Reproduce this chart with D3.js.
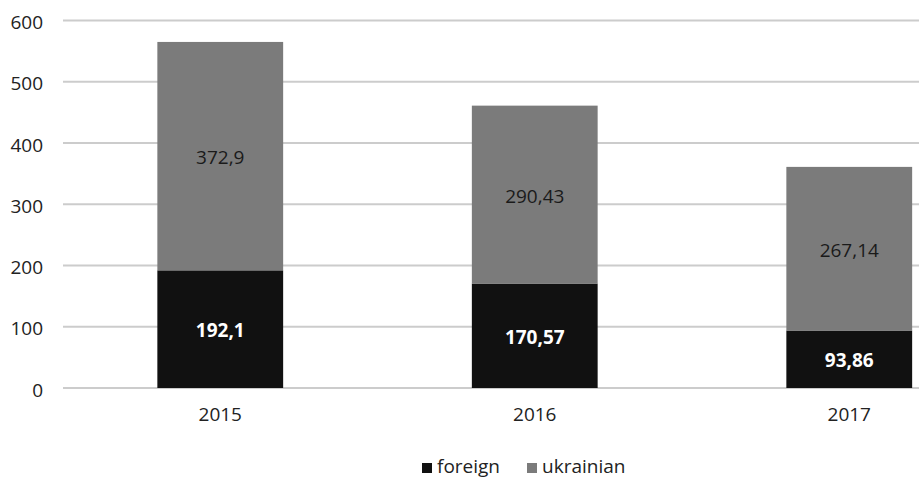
<!DOCTYPE html>
<html>
<head>
<meta charset="utf-8">
<script src="https://cdn.jsdelivr.net/npm/d3@7"></script>
<style>
  body { margin: 0; background: #fff; }
  svg { display: block; font-family: "Open Sans", sans-serif; }
</style>
</head>
<body>
<svg id="chart"></svg>
<script>
const width = 919;
const height = 479;

const years = ["2015", "2016", "2017"];
const foreign = [192.1, 170.57, 93.86];
const ukrainian = [372.9, 290.43, 267.14];
const yTicks = [0, 100, 200, 300, 400, 500, 600];
const seriesNames = ["foreign", "ukrainian"];
const colors = ["#111111", "#7b7b7b"];

const fmt = (v) => String(v).replace(".", ",");
const fontSize = 19;

const svg = d3.select("#chart").attr("width", width).attr("height", height);

// the original chart is cut off on the right, so the band range runs past the edge
const x = d3.scaleBand().domain(years).range([63, 1006.5]).paddingInner(0.6).paddingOuter(0.3);
const y = d3.scaleLinear().domain([0, 600]).range([388, 20.5]);

const data = years.map((yr, i) => ({ year: yr, foreign: foreign[i], ukrainian: ukrainian[i] }));
const stacked = d3.stack().keys(seriesNames)(data);

// gridlines
svg.append("g")
    .selectAll("line")
    .data(yTicks)
    .enter()
    .append("line")
    .attr("x1", 63)
    .attr("x2", width)
    .attr("y1", (d) => y(d))
    .attr("y2", (d) => y(d))
    .attr("stroke", "#cccccc")
    .attr("stroke-width", 2);

// y labels
const yAxis = d3.axisLeft(y).tickValues(yTicks).tickSize(0).tickPadding(0);
const yg = svg.append("g").attr("transform", "translate(43,2)").call(yAxis);
yg.select(".domain").remove();
yg.selectAll("text")
    .attr("font-size", fontSize)
    .attr("fill", "#222")
    .attr("font-family", "Open Sans, sans-serif");

// x labels
const xAxis = d3.axisBottom(x).tickSize(0).tickPadding(0);
const xg = svg.append("g").attr("transform", "translate(0,407)").call(xAxis);
xg.select(".domain").remove();
xg.selectAll("text")
    .attr("font-size", fontSize)
    .attr("fill", "#222")
    .attr("font-family", "Open Sans, sans-serif");

// bars
const layers = svg.append("g")
    .selectAll("g")
    .data(stacked)
    .enter()
    .append("g")
    .attr("fill", (d, i) => colors[i]);

layers.selectAll("rect")
    .data((d) => d)
    .enter()
    .append("rect")
    .attr("x", (d) => x(d.data.year))
    .attr("width", x.bandwidth())
    .attr("y", (d) => y(d[1]))
    .attr("height", (d) => y(d[0]) - y(d[1]));

// value labels
stacked.forEach((layer, li) => {
    svg.append("g")
        .selectAll("text")
        .data(layer)
        .enter()
        .append("text")
        .attr("x", (d) => x(d.data.year) + x.bandwidth() / 2)
        .attr("y", (d) => (y(d[0]) + y(d[1])) / 2 + 1.5)
        .attr("dy", "0.35em")
        .attr("text-anchor", "middle")
        .attr("font-size", fontSize)
        .attr("font-weight", li === 0 ? 700 : 400)
        .attr("fill", li === 0 ? "#ffffff" : "#1a1a1a")
        .text((d) => fmt(d.data[layer.key]));
});

// legend
const legend = svg.append("g").attr("transform", "translate(422,473)");
const legendX = [0, 105];
seriesNames.forEach((name, i) => {
    legend.append("rect")
        .attr("x", legendX[i])
        .attr("y", -10)
        .attr("width", 10)
        .attr("height", 10)
        .attr("fill", colors[i]);
    legend.append("text")
        .attr("x", legendX[i] + 15)
        .attr("y", 0)
        .attr("font-size", fontSize)
        .attr("fill", "#222")
        .text(name);
});
</script>
</body>
</html>
